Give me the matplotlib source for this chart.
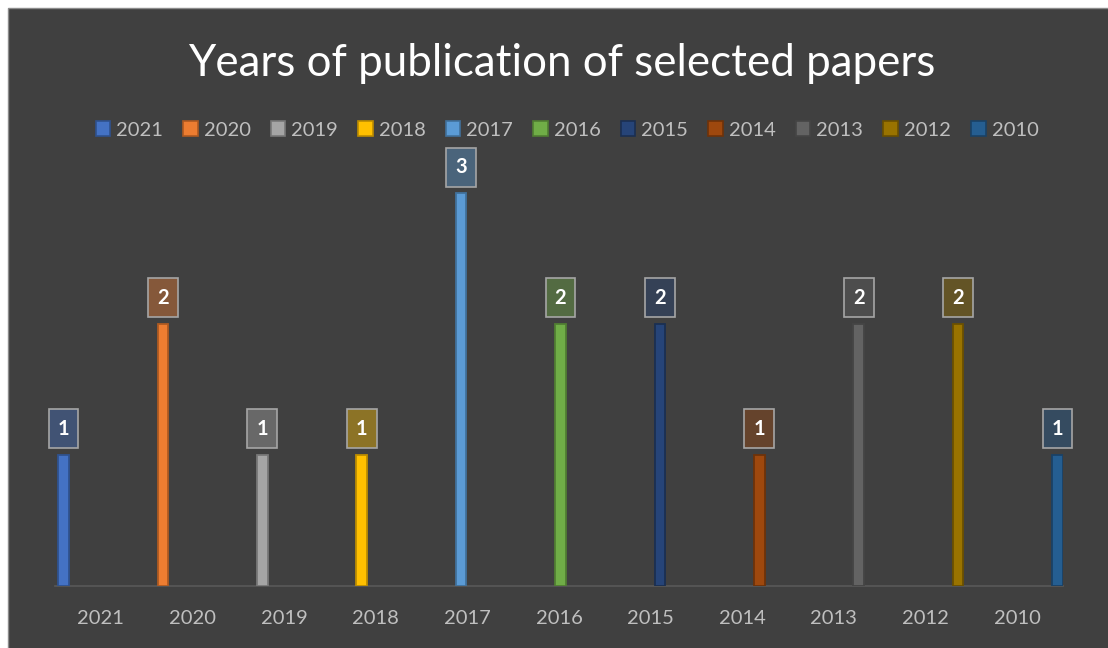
import matplotlib
matplotlib.use("Agg")
import matplotlib.pyplot as plt
from matplotlib.patches import Rectangle, Patch
from matplotlib.path import Path

plt.rcParams["font.family"] = ["Lato", "DejaVu Sans"]

years = ["2021", "2020", "2019", "2018", "2017", "2016", "2015", "2014", "2013", "2012", "2010"]
counts = [1, 2, 1, 1, 3, 2, 2, 1, 2, 2, 1]
colors = ["#4472C4", "#ED7D31", "#A5A5A5", "#FFC000", "#5B9BD5", "#70AD47",
          "#264478", "#9E480E", "#636363", "#997300", "#255E91"]
edges = ["#2F528F", "#AE5A21", "#787878", "#BC8C00", "#41719C", "#507E32",
         "#1A2F52", "#6E3209", "#454545", "#6B5000", "#1A4266"]

BG = "#404040"
TXT = "#BFBFBF"


def label_box(x0, y0, width, height, mutation_size):
    # taller than wide, like the Excel data-label callouts
    px = 0.45 * mutation_size
    py = 0.47 * mutation_size
    x0, x1 = x0 - px, x0 + width + px
    y0, y1 = y0 - py, y0 + height + py
    return Path([(x0, y0), (x1, y0), (x1, y1), (x0, y1), (x0, y0)], closed=True)


fig = plt.figure(figsize=(11.08, 6.48), dpi=100, facecolor="white")
fig.patches.append(Rectangle((8 / 1108, -0.01), 1.02, (640 / 648) + 0.01,
                             transform=fig.transFigure, facecolor=BG,
                             edgecolor="#8C8C8C", linewidth=1, zorder=-10))

ax = fig.add_axes([55 / 1108, 62 / 648, 1008 / 1108, 458 / 648])
ax.set_facecolor("none")

n = len(years)
step = 0.0846
width = 0.115
for i, (yr, c) in enumerate(zip(years, counts)):
    xpos = i + (i - 5) * step + 0.016
    ax.bar(xpos, c, width=width, color=colors[i], edgecolor=edges[i],
           linewidth=1.3, label=yr, zorder=3)
    r, g, b = matplotlib.colors.to_rgb(colors[i])
    ax.annotate(str(c), (xpos, c), xytext=(0, 19), textcoords="offset points",
                ha="center", va="center", fontsize=14.5, fontweight="bold",
                color="white", zorder=5,
                bbox=dict(boxstyle=label_box, facecolor=(r, g, b, 0.4),
                          edgecolor="#A6A6A6", linewidth=1.2))

ax.set_xlim(-0.5, n - 0.5)
ax.set_ylim(0, 3.5)
ax.set_xticks(range(n))
ax.set_xticklabels(years, color=TXT, fontsize=14.5)
ax.tick_params(axis="x", length=0, pad=17)
ax.set_yticks([])
for s in ["left", "right", "top"]:
    ax.spines[s].set_visible(False)
ax.spines["bottom"].set_color("#595959")
ax.spines["bottom"].set_linewidth(1.2)

fig.text(562 / 1108, 1 - 64 / 648, "Years of publication of selected papers",
         ha="center", va="center", color="white", fontsize=31.6)

handles = [Patch(facecolor=colors[i], edgecolor=edges[i], linewidth=1.2) for i in range(n)]
fig.legend(handles, years, loc="center", bbox_to_anchor=(567 / 1108, 1 - 130 / 648),
           ncol=n, frameon=False, fontsize=14.5, labelcolor=TXT,
           handlelength=0.72, handleheight=0.72, handletextpad=0.3,
           columnspacing=1.0, borderaxespad=0)

fig.savefig("out.png", dpi=100, facecolor=fig.get_facecolor())
